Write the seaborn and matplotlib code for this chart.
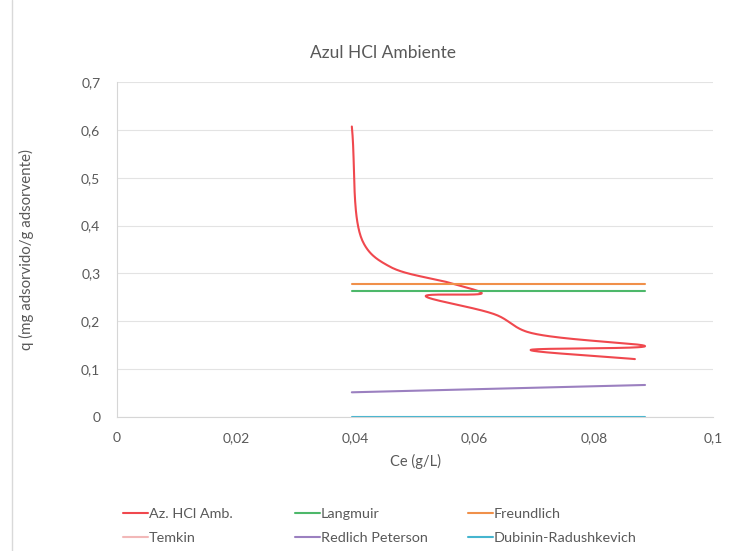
import numpy as np
import pandas as pd
import matplotlib
matplotlib.use("Agg")
import matplotlib.pyplot as plt
from matplotlib.lines import Line2D
from matplotlib.ticker import FuncFormatter
import seaborn as sns

# ---- data ----
ce_exp = [0.0394, 0.0413, 0.0458, 0.0559, 0.0612, 0.0518, 0.0637, 0.0688, 0.0886, 0.0694, 0.0869]
q_exp = [0.607, 0.365, 0.314, 0.280, 0.2585, 0.2528, 0.213, 0.178, 0.148, 0.140, 0.121]

ce_model = [0.0394, 0.0886]
q_langmuir = [0.2626, 0.2626]
q_freundlich = [0.2773, 0.2773]
q_temkin = [np.nan, np.nan]
q_redlich = [0.0516, 0.0669]
q_dubinin = [0.0, 0.0]

series_names = ["Az. HCl Amb.", "Langmuir", "Freundlich", "Temkin", "Redlich Peterson", "Dubinin-Radushkevich"]
colors = ["#F0484E", "#4DB86A", "#F0904A", "#F2B8B8", "#9B80C0", "#45B5CF"]

x_ticks = [0, 0.02, 0.04, 0.06, 0.08, 0.1]
y_ticks = [0, 0.1, 0.2, 0.3, 0.4, 0.5, 0.6, 0.7]


def centripetal_cr(x, y, sx=596 / 0.1, sy=335 / 0.7, n=40, alpha=0.5):
    """Centripetal Catmull-Rom smoothing (Excel-like smoothed line)."""
    P = np.column_stack([np.asarray(x) * sx, np.asarray(y) * sy])
    P = np.vstack([2 * P[0] - P[1], P, 2 * P[-1] - P[-2]])
    out = []
    for i in range(1, len(P) - 2):
        p0, p1, p2, p3 = P[i - 1], P[i], P[i + 1], P[i + 2]
        t0 = 0.0
        t1 = t0 + np.linalg.norm(p1 - p0) ** alpha
        t2 = t1 + np.linalg.norm(p2 - p1) ** alpha
        t3 = t2 + np.linalg.norm(p3 - p2) ** alpha
        t = np.linspace(t1, t2, n)[:, None]
        a1 = (t1 - t) / (t1 - t0) * p0 + (t - t0) / (t1 - t0) * p1
        a2 = (t2 - t) / (t2 - t1) * p1 + (t - t1) / (t2 - t1) * p2
        a3 = (t3 - t) / (t3 - t2) * p2 + (t - t2) / (t3 - t2) * p3
        b1 = (t2 - t) / (t2 - t0) * a1 + (t - t0) / (t2 - t0) * a2
        b2 = (t3 - t) / (t3 - t1) * a2 + (t - t1) / (t3 - t1) * a3
        c = (t2 - t) / (t2 - t1) * b1 + (t - t1) / (t2 - t1) * b2
        out.append(c if i == 1 else c[1:])
    S = np.vstack(out)
    return S[:, 0] / sx, S[:, 1] / sy


sns.set_theme(style="white")
plt.rcParams["font.family"] = ["Lato", "DejaVu Sans"]

fig = plt.figure(figsize=(7.37, 5.51), dpi=100)
ax = fig.add_axes([0.1588, 0.2432, 0.8086, 0.608])

sx_, sy_ = centripetal_cr(ce_exp, q_exp)
df_exp = pd.DataFrame({"x": sx_, "y": sy_})
sns.lineplot(data=df_exp, x="x", y="y", sort=False, estimator=None, ax=ax,
             color=colors[0], lw=1.5, label=series_names[0])

model_vals = [q_langmuir, q_freundlich, q_temkin, q_redlich, q_dubinin]
for name, col, vals in zip(series_names[1:], colors[1:], model_vals):
    d = pd.DataFrame({"x": ce_model, "y": vals})
    if np.all(np.isnan(vals)):
        ax.plot([], [], color=col, lw=1.5, label=name)
    else:
        sns.lineplot(data=d, x="x", y="y", sort=False, estimator=None, ax=ax,
                     color=col, lw=1.5, label=name)

ax.set_xlim(0, 0.1)
ax.set_ylim(0, 0.7)
ax.set_xticks(x_ticks)
ax.set_yticks(y_ticks)
fmt = FuncFormatter(lambda v, p: ("%g" % round(v, 4)).replace(".", ","))
ax.xaxis.set_major_formatter(fmt)
ax.yaxis.set_major_formatter(fmt)
ax.grid(axis="y", color="#E3E3E3", lw=0.8)
ax.grid(axis="x", visible=False)
ax.set_axisbelow(True)
for s in ["top", "right"]:
    ax.spines[s].set_visible(False)
for s in ["left", "bottom"]:
    ax.spines[s].set_color("#D6D6D6")
    ax.spines[s].set_linewidth(0.8)
ax.tick_params(axis="both", colors="#595959", labelsize=10, length=0, pad=11)
ax.tick_params(axis="y", pad=12)

fig.text(383 / 737, 1 - 53 / 551, "Azul HCl Ambiente", fontsize=12.5, color="#595959",
         ha="center", va="center")
ax.set_xlabel("Ce (g/L)", fontsize=10.5, color="#595959", labelpad=7)
ax.set_ylabel("q (mg adsorvido/g adsorvente)", fontsize=10.8, color="#595959", labelpad=34)

handles, labels = ax.get_legend_handles_labels()
if ax.get_legend():
    ax.get_legend().remove()
col_x = [123 / 737, 295 / 737, 468 / 737]
for c in range(3):
    idx = [c, c + 3]
    fig.legend([handles[i] for i in idx], [labels[i] for i in idx],
               loc="center left", bbox_to_anchor=(col_x[c], 1 - 526 / 551),
               bbox_transform=fig.transFigure, frameon=False,
               fontsize=10.4, handlelength=1.73, handletextpad=0.05,
               labelspacing=0.8, labelcolor="#595959",
               borderpad=0, borderaxespad=0)

fig.add_artist(Line2D([12 / 737, 12 / 737], [0, 1], transform=fig.transFigure,
                      color="#D9D9D9", lw=1))

fig.savefig("out.png", dpi=100, facecolor="white")
